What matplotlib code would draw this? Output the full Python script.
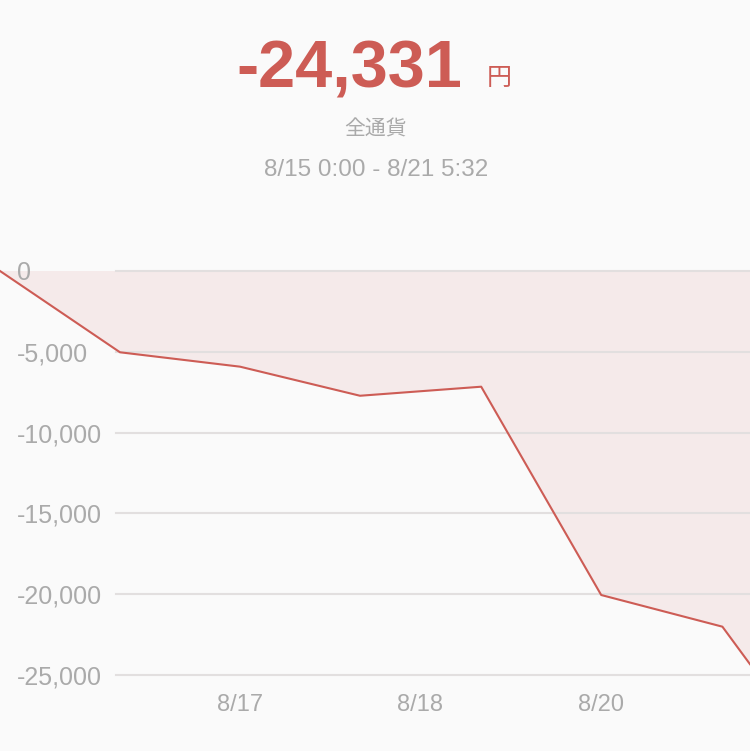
import matplotlib.pyplot as plt

# cumulative profit (yen), x = days since 8/15 0:00
days = [0, 1, 2, 3, 4.01, 5.01, 6.02, 6.25]
profit = [0, -5030, -5920, -7720, -7160, -20050, -22010, -24331]

y_ticks = [0, -5000, -10000, -15000, -20000, -25000]
y_labels = ["0", "-5,000", "-10,000", "-15,000", "-20,000", "-25,000"]
x_ticks = [2.0, 3.5, 5.01]
x_labels = ["8/17", "8/18", "8/20"]

total_text = "-24,331"
unit_text = "円"
subtitle = "全通貨"
period_text = "8/15 0:00 - 8/21 5:32"

W, H = 750, 751
RED = "#cd5c55"
FILL = "#f5eaea"
GRAY = "#aaaaaa"
GRID = "#e2dfdf"
BG = "#fafafa"
LATIN = ["Liberation Sans", "DejaVu Sans"]
CJK = ["Noto Sans CJK JP", "DejaVu Sans"]


def fx(px):
    return px / W


def fy(py):
    return 1 - py / H


fig = plt.figure(figsize=(W / 100, H / 100), dpi=100, facecolor=BG)

# header
fig.text(fx(462), fy(87), total_text, color=RED, fontsize=48, fontweight="bold",
         family=LATIN, ha="right", va="baseline")
fig.text(fx(487), fy(85), unit_text, color=RED, fontsize=18, family=CJK,
         ha="left", va="baseline")
fig.text(fx(376), fy(127), subtitle, color=GRAY, fontsize=15, family=CJK,
         ha="center", va="center_baseline")
fig.text(fx(376), fy(168), period_text, color=GRAY, fontsize=17.5, family=LATIN,
         ha="center", va="center_baseline")

# chart area: 0 at y=271px, -25,000 at y=675px
ax = fig.add_axes([0, fy(675), 1, (675 - 271) / H])
ax.set_facecolor(BG)
ax.set_xlim(0, 6.25)
ax.set_ylim(-25000, 0)
for s in ax.spines.values():
    s.set_visible(False)

for v in y_ticks:
    ax.axhline(v, xmin=116 / W, xmax=1, color=GRID, lw=1.5, zorder=3, clip_on=False)

ax.fill_between(days, profit, 0, color=FILL, lw=0, zorder=1)
ax.plot(days, profit, color=RED, lw=1.5, zorder=4, clip_on=False)

ytr = ax.get_yaxis_transform()
for v, lab in zip(y_ticks, y_labels):
    ax.text(17 / W, v, lab, transform=ytr, color=GRAY, fontsize=18,
            family=LATIN, ha="left", va="center_baseline", zorder=5)

ax.set_yticks([])
ax.set_xticks(x_ticks, x_labels)
ax.tick_params(axis="x", length=0, pad=14, labelsize=17, labelcolor=GRAY)
for t in ax.get_xticklabels():
    t.set_family(LATIN)

fig.savefig("out.png", dpi=100, facecolor=BG)
